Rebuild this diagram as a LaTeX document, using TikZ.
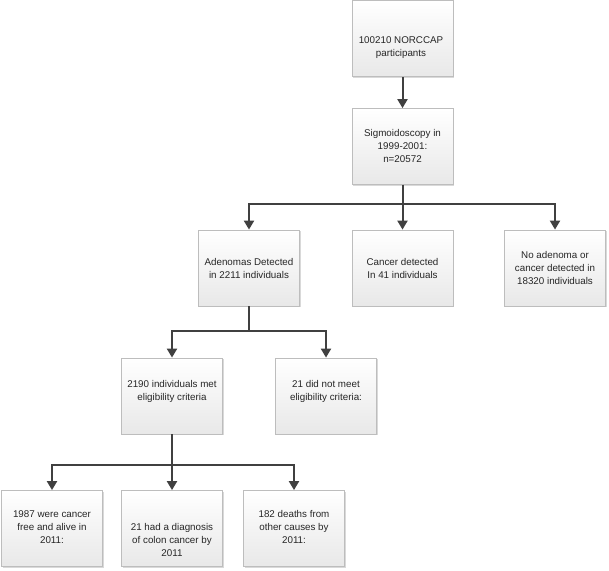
\documentclass[tikz,border=0pt]{standalone}
\usepackage{fontspec}
\setmainfont{Liberation Sans}
\usetikzlibrary{arrows.meta,shadows}
\definecolor{linec}{HTML}{404040}
\definecolor{borderc}{HTML}{BDBDBD}
\tikzset{
  box/.style={draw=borderc, line width=0.8pt, top color=white, bottom color=black!9,
    minimum width=101pt, minimum height=76pt, inner sep=0pt,
    drop shadow={shadow xshift=1.2pt, shadow yshift=-1.2pt, opacity=0.25, fill=black!60}},
  txt/.style={align=center, font=\fontsize{9.8}{13}\selectfont, inner sep=0pt, text=black!85},
  arr/.style={draw=linec, line width=2pt, -{Triangle[width=10pt,length=9pt]}},
}
\begin{document}
\begin{tikzpicture}[x=1pt,y=-1pt]
\useasboundingbox (0,0) rectangle (609,570);
% boxes
\node[box] (b1) at (402.5,38.5) {};
\node[box] (b2) at (402.5,146.5) {};
\node[box] (b3) at (249,268) {};
\node[box] (b4) at (402.5,268) {};
\node[box] (b5) at (555,268) {};
\node[box] (b6) at (172,396) {};
\node[box] (b7) at (326,396) {};
\node[box] (b8) at (52,528.5) {};
\node[box] (b9) at (172,528.5) {};
\node[box] (b10) at (294,528.5) {};
% texts
\node[txt] (t1) at (401,47.5) {100210 NORCCAP\\participants};
\node[txt] (t2) at (402.5,146) {Sigmoidoscopy in\\1999-2001:\\n=20572};
\node[txt] (t3) at (249,268.5) {Adenomas Detected\\in 2211 individuals};
\node[txt] (t4) at (402.5,268.5) {Cancer detected\\In 41 individuals};
\node[txt] (t5) at (555,268) {No adenoma or\\cancer detected in\\18320 individuals};
\node[txt] (t6) at (172,391) {2190 individuals met\\eligibility criteria};
\node[txt] (t7) at (326,391) {21 did not meet\\eligibility criteria:};
\node[txt] (t8) at (52,527) {1987 were cancer\\free and alive in\\2011:};
\node[txt] (t9) at (172,540) {21 had a diagnosis\\of colon cancer by\\2011};
\node[txt] (t10) at (294,527) {182 deaths from\\other causes by\\2011:};
% connectors
\draw[arr] (b1.south) -- (b2.north);
\draw[arr] (b2.south) -- ++(0,19) -| (b3.north);
\draw[arr] (b2.south) -- (b4.north);
\draw[arr] (b2.south) -- ++(0,19) -| (b5.north);
\draw[arr] (b3.south) -- ++(0,25) -| (b6.north);
\draw[arr] (b3.south) -- ++(0,25) -| (b7.north);
\draw[arr] (b6.south) -- ++(0,31) -| (b8.north);
\draw[arr] (b6.south) -- (b9.north);
\draw[arr] (b6.south) -- ++(0,31) -| (b10.north);
\end{tikzpicture}
\end{document}
